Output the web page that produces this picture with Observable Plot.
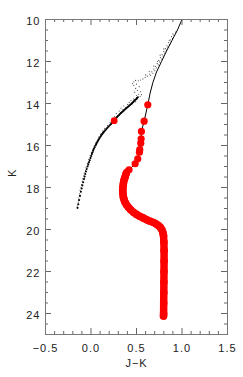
<!DOCTYPE html>
<html><head><meta charset="utf-8">
<script src="https://cdn.jsdelivr.net/npm/d3@7"></script>
<script src="https://cdn.jsdelivr.net/npm/@observablehq/plot@0.6"></script>
<style>body{margin:0;background:#fff} svg{display:block}</style>
</head><body><div id="chart"></div>
<script>
// Axis ticks
const xMajor = [-0.5, 0, 0.5, 1, 1.5];
const xTickLabels = ["−0.5", "0.0", "0.5", "1.0", "1.5"];
const xMinor = [-0.4,-0.3,-0.2,-0.1,0.1,0.2,0.3,0.4,0.6,0.7,0.8,0.9,1.1,1.2,1.3,1.4];
const yMajor = [10, 12, 14, 16, 18, 20, 22, 24];
const yTickLabels = ["10", "12", "14", "16", "18", "20", "22", "24"];
const yMinor = [10.5,11,11.5,12.5,13,13.5,14.5,15,15.5,16.5,17,17.5,18.5,19,19.5,20.5,21,21.5,22.5,23,23.5,24.5];

// Model isochrone (black line, upper part)
const isoJK = [1.0, 0.95, 0.89, 0.83, 0.775, 0.72, 0.68, 0.65];
const isoK  = [10.0, 10.5, 11.0, 11.5, 12.0, 12.5, 13.0, 13.5];

// Model points, sparse (red dots)
const redJK = [0.624,0.584,0.554,0.551,0.547,0.536,0.532,0.514,0.485,0.418,0.393];
const redK  = [14.06,14.84,15.33,15.68,15.89,16.20,16.32,16.63,16.87,17.16,17.27];

// Model points, dense track (red)
const trackJK = [0.385,0.374,0.362,0.356,0.351,0.349,0.351,0.356,0.364,0.374,0.390,0.411,0.436,0.466,0.500,0.540,0.577,0.613,0.650,0.687,0.717,0.741,0.762,0.779,0.790,0.797,0.801,0.803,0.803,0.802,0.801,0.800,0.799,0.798,0.797];
const trackK  = [17.35,17.51,17.66,17.82,17.98,18.14,18.30,18.46,18.58,18.70,18.82,18.94,19.06,19.18,19.28,19.38,19.46,19.54,19.61,19.67,19.74,19.81,19.90,20.01,20.15,20.29,20.6,21.0,21.5,22.0,22.5,23.0,23.5,24.0,24.12];

// Red marker on the observed sequence
const markJK = [0.255];
const markK  = [14.82];

// Observed stars: upper sparse part
const upJK = [0.93,0.91,0.895,0.88,0.862,0.845,0.828,0.81,0.792,0.774,0.756,0.738,0.72,0.70,0.68,0.655,
  0.90,0.885,0.87,0.852,0.835,0.818,0.80,0.782,0.764,0.745,0.727,0.708,0.69,0.668,0.645,0.62,0.595,0.57,0.545,
  0.86,0.80,0.76,0.73,0.69,0.64,0.60,0.52,0.49,0.47,0.455,0.47,0.50,0.53,0.49,0.51,0.545,0.48,0.52,0.555,0.50,0.54];
const upK  = [10.60,10.74,10.90,11.04,11.18,11.32,11.46,11.60,11.74,11.88,12.02,12.16,12.30,12.44,12.56,12.66,
  10.68,10.82,10.97,11.10,11.25,11.39,11.52,11.67,11.81,11.95,12.09,12.23,12.36,12.49,12.60,12.70,12.76,12.83,12.88,
  11.00,11.40,11.70,12.00,12.22,12.48,12.64,12.92,12.90,12.97,13.05,13.14,13.08,13.20,13.28,13.38,13.44,13.46,13.56,13.58,13.62,13.66];

// Observed stars: dense core of the sequence
const coreJK = [0.515,0.505,0.500,0.488,0.480,0.470,0.462,0.452,0.443,0.432,0.420,0.410,0.400,0.390,0.378,0.368,0.358,0.348,0.338,0.328,0.318,0.308,0.296,0.285,0.275,0.265,0.256,0.245,0.232,0.220,0.206,0.193,0.180,0.168,0.155,0.143,0.132,0.122,0.112,0.103,0.094,0.086,0.078,0.070,0.063,0.056,0.049,0.040,0.032,0.024,0.017,0.010,0.002,-0.006,-0.014,-0.022,-0.030,-0.038,-0.047,-0.055,-0.063,-0.070,-0.077,-0.086,-0.095,-0.103,-0.111,-0.121,-0.131,-0.140,-0.148];
const coreK  = [13.70,13.74,13.78,13.82,13.86,13.90,13.94,13.98,14.02,14.06,14.10,14.14,14.18,14.22,14.26,14.30,14.34,14.38,14.42,14.46,14.50,14.55,14.60,14.65,14.70,14.75,14.80,14.86,14.92,14.98,15.04,15.10,15.16,15.22,15.28,15.34,15.40,15.46,15.52,15.58,15.64,15.70,15.76,15.82,15.88,15.94,16.00,16.08,16.16,16.24,16.32,16.40,16.50,16.60,16.70,16.80,16.90,17.00,17.12,17.24,17.36,17.48,17.60,17.75,17.90,18.05,18.20,18.40,18.60,18.80,18.97];

// Observed stars: spread around the core
const cloudJK = [0.47,0.44,0.49,0.42,0.40,0.43,0.36,0.38,0.33,0.35,0.31,0.33,0.28,0.30,0.26,0.27,0.23,0.24,0.21,0.215,0.18,0.19,0.15,0.165,0.13,0.14,0.105,0.115,0.085,0.095,0.07,0.075,0.05,0.06,0.035,0.04,0.02,0.025,0.005,0.01,-0.01,-0.005,-0.025,-0.02,-0.04,-0.035,-0.055,-0.06,-0.075,-0.08,-0.09,-0.095,-0.105,-0.11,-0.12,-0.125,-0.135,-0.14,-0.15];
const cloudK  = [13.78,13.86,13.92,13.95,14.04,14.08,14.12,14.20,14.22,14.30,14.36,14.44,14.48,14.56,14.62,14.70,14.74,14.82,14.90,14.98,15.04,15.12,15.18,15.26,15.32,15.40,15.46,15.54,15.60,15.68,15.74,15.82,15.88,15.96,16.02,16.10,16.18,16.26,16.34,16.42,16.48,16.58,16.66,16.76,16.84,16.94,17.04,17.18,17.30,17.44,17.58,17.70,17.86,18.00,18.14,18.30,18.50,18.70,18.88];

const zip = (a, b) => a.map((v, i) => ({jk: v, k: b[i]}));
const iso = zip(isoJK, isoK);
const red = zip(redJK, redK);
const track = zip(trackJK, trackK);
const lineAll = iso.concat(red, track);

const W = 243, H = 377, mL = 45, mR = 16, mT = 19, mB = 43;
const fw = W - mL - mR, fh = H - mT - mB;
const tickCol = "#666";

const chart = Plot.plot({
  width: W, height: H,
  marginLeft: mL, marginRight: mR, marginTop: mT, marginBottom: mB,
  style: {fontFamily: "'Liberation Sans', Arial, sans-serif", fontSize: "11px", color: "#222", background: "#fff", letterSpacing: "1px"},
  x: {domain: [-0.5, 1.5]},
  y: {domain: [10, 25], reverse: true},
  marks: [
    Plot.dot(zip(upJK, upK), {x: "jk", y: "k", r: 0.6, fill: "#555", stroke: "none"}),
    Plot.dot(zip(cloudJK, cloudK), {x: "jk", y: "k", r: 0.6, fill: "#555", stroke: "none"}),
    Plot.dot(zip(coreJK, coreK), {x: "jk", y: "k", r: 1.05, fill: "#000", stroke: "none"}),
    Plot.line(lineAll, {x: "jk", y: "k", stroke: "#000", strokeWidth: 1, clip: true}),
    Plot.line(track, {x: "jk", y: "k", stroke: "#ff0000", strokeWidth: 7.5, strokeLinecap: "round", strokeLinejoin: "round"}),
    Plot.dot(red, {x: "jk", y: "k", r: 3.6, fill: "#ff0000", stroke: "none"}),
    Plot.dot(track, {x: "jk", y: "k", r: 3.8, fill: "#ff0000", stroke: "none"}),
    Plot.dot(zip(markJK, markK), {x: "jk", y: "k", r: 3.4, fill: "#ff0000", stroke: "none"}),
    // ticks (inward, on all four sides)
    Plot.ruleX(xMajor, {stroke: tickCol, insetTop: fh - 6}),
    Plot.ruleX(xMinor, {stroke: tickCol, insetTop: fh - 3}),
    Plot.ruleX(xMajor, {stroke: tickCol, insetBottom: fh - 6}),
    Plot.ruleX(xMinor, {stroke: tickCol, insetBottom: fh - 3}),
    Plot.ruleY(yMajor, {stroke: tickCol, insetRight: fw - 6}),
    Plot.ruleY(yMinor, {stroke: tickCol, insetRight: fw - 3}),
    Plot.ruleY(yMajor, {stroke: tickCol, insetLeft: fw - 6}),
    Plot.ruleY(yMinor, {stroke: tickCol, insetLeft: fw - 3}),
    Plot.frame({stroke: "#777"}),
    Plot.axisX(xMajor, {tickSize: 0, tickPadding: 10, label: null, tickFormat: d => xTickLabels[xMajor.indexOf(d)]}),
    Plot.axisY(yMajor, {tickSize: 0, tickPadding: 5, label: null, dy: 2, tickFormat: d => yTickLabels[yMajor.indexOf(d)]}),
    Plot.text(["J−K"], {frameAnchor: "bottom", lineAnchor: "middle", dy: 29, text: d => d, fill: "#222"}),
    Plot.text(["K"], {frameAnchor: "left", lineAnchor: "middle", dx: -33, rotate: -90, text: d => d, fill: "#222"})
  ]
});
document.getElementById("chart").appendChild(chart);
</script></body></html>
